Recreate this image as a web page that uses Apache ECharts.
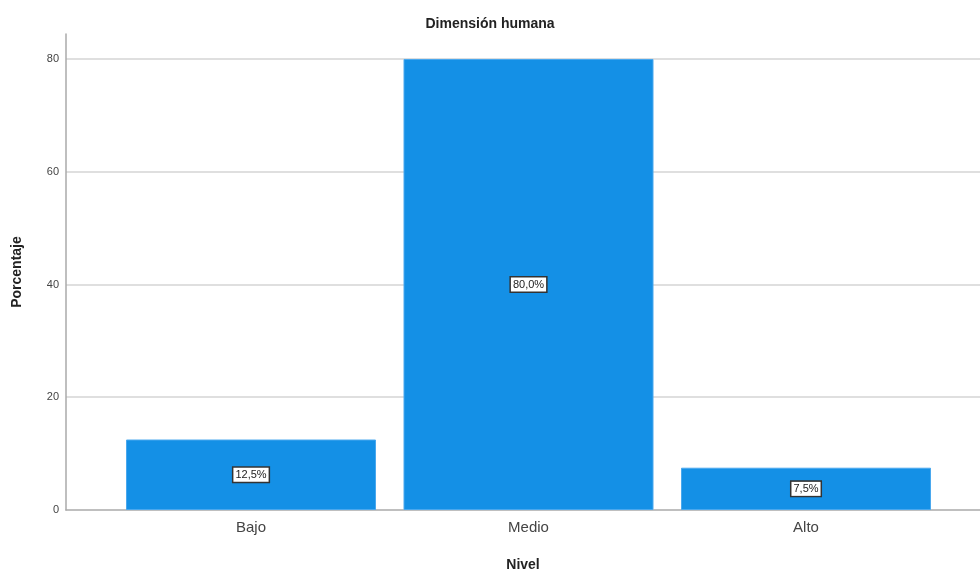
<!DOCTYPE html>
<html>
<head>
<meta charset="utf-8">
<script src="https://cdn.jsdelivr.net/npm/echarts@6/dist/echarts.min.js"></script>
<style>
  html, body { margin: 0; padding: 0; background: #fff; }
  #chart { width: 980px; height: 574px; }
</style>
</head>
<body>
<div id="chart"></div>
<script>
// Nivel categories and their percentages
const categories = ['Bajo', 'Medio', 'Alto'];
const percentages = [12.5, 80.0, 7.5];
const yTicks = [0, 20, 40, 60, 80];

const chart = echarts.init(document.getElementById('chart'), null, { renderer: 'canvas' });

const fmtPct = v => v.toFixed(1).replace('.', ',') + '%';

chart.setOption({
  animation: false,
  backgroundColor: '#ffffff',
  textStyle: { fontFamily: 'Liberation Sans, Arial, sans-serif' },
  title: {
    text: 'Dimensión humana',
    left: 'center',
    top: 12,
    textStyle: { fontSize: 14, fontWeight: 'bold', color: '#222', fontFamily: 'Liberation Sans, Arial, sans-serif' }
  },
  grid: { left: 66, right: 0, top: 34, bottom: 64, containLabel: false, outerBoundsMode: 'none' },
  xAxis: {
    type: 'value',
    min: -0.6667,
    max: 2.627,
    name: 'Nivel',
    nameLocation: 'middle',
    nameGap: 48,
    nameTextStyle: { fontSize: 14, fontWeight: 'bold', color: '#222' },
    axisLine: { show: true, onZero: false, lineStyle: { color: '#aaaaaa', width: 1.5 } },
    axisTick: { show: false },
    splitLine: { show: false },
    axisLabel: {
      customValues: categories.map((_, i) => i),
      formatter: v => categories[Math.round(v)] || '',
      fontSize: 15,
      color: '#444',
      margin: 10
    }
  },
  yAxis: {
    type: 'value',
    min: 0,
    max: 84.43,
    name: 'Porcentaje',
    nameLocation: 'middle',
    nameGap: 42,
    nameTextStyle: { fontSize: 14, fontWeight: 'bold', color: '#222' },
    axisLine: { show: true, onZero: false, lineStyle: { color: '#aaaaaa', width: 1.5 } },
    axisTick: { show: false },
    splitLine: { show: false },
    axisLabel: {
      customValues: yTicks,
      fontSize: 11,
      color: '#444',
      margin: 7
    }
  },
  series: [
    {
      // horizontal reference lines at each tick value, kept behind the bars
      type: 'line',
      data: [],
      silent: true,
      z: 0,
      markLine: {
        symbol: 'none',
        silent: true,
        z: 0,
        label: { show: false },
        lineStyle: { color: '#d4d4d4', width: 1.5, type: 'solid' },
        data: yTicks.filter(t => t > 0).map(t => ({ yAxis: t }))
      }
    },
    {
      type: 'bar',
      barWidth: 250,
      z: 3,
      data: percentages.map((v, i) => [i, v]),
      itemStyle: { color: '#1490e6', borderColor: '#4aa8ee', borderWidth: 1 },
      label: {
        show: true,
        position: 'inside',
        formatter: p => fmtPct(p.value[1]),
        fontSize: 11,
        color: '#222',
        backgroundColor: '#ffffff',
        borderColor: '#333',
        borderWidth: 1.5,
        padding: [2, 2, 1, 2]
      }
    }
  ]
});
</script>
</body>
</html>
